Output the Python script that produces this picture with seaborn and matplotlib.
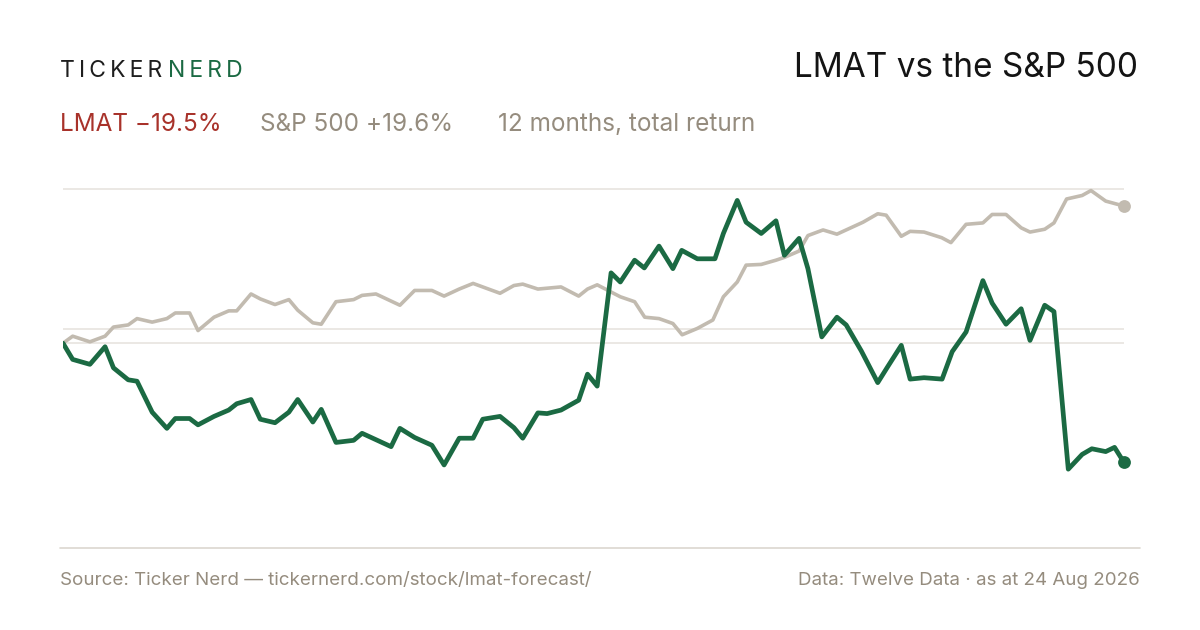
import matplotlib
matplotlib.use("Agg")
import matplotlib.pyplot as plt
import seaborn as sns
import pandas as pd

# trading day index vs cumulative total return (%)
lmat_day = [0, 2.3, 6.4, 10.0, 12.0, 15.5, 17.6, 21.2, 24.7, 26.7, 30.1, 32.1, 35.9, 39.4, 41.3,
            44.7, 46.9, 50.4, 53.7, 55.8, 59.4, 61.4, 64.9, 69.1, 71.1, 78.0, 80.1, 83.6, 87.7,
            90.6, 94.2, 97.5, 99.8, 103.9, 107.2, 109.3, 112.9, 115.1, 118.4, 122.6, 124.7,
            127.0, 130.3, 132.5, 135.9, 138.2, 141.7, 145.0, 147.1, 150.8, 155.0, 157.0, 160.3,
            162.4, 166.0, 169.5, 171.5, 175.0, 177.1, 180.4, 184.0, 186.2, 189.8, 193.7, 196.0,
            199.3, 201.4, 204.7, 209.0, 211.4, 214.7, 218.7, 220.9, 224.2, 227.8, 229.9, 233.4,
            235.6, 239.0, 242.3, 244.6, 247.9, 250.0, 252.2]
lmat_ret = [0.0, -2.3, -3.0, -0.5, -3.5, -5.2, -5.4, -9.8, -12.1, -10.7, -10.7, -11.6, -10.4,
            -9.5, -8.6, -8.0, -10.8, -11.3, -9.8, -8.0, -11.2, -9.4, -14.1, -13.8, -12.8, -14.7,
            -12.1, -13.4, -14.5, -17.3, -13.5, -13.5, -10.8, -10.4, -12.0, -13.5, -9.9, -10.0,
            -9.5, -8.1, -4.4, -6.1, 10.0, 8.7, 11.8, 10.7, 13.8, 10.6, 13.2, 12.0, 12.0, 15.6,
            20.3, 17.2, 15.6, 17.4, 12.5, 14.9, 10.6, 0.9, 3.7, 2.6, -1.1, -5.6, -3.4, -0.3,
            -5.1, -4.9, -5.1, -1.2, 1.6, 8.9, 5.7, 2.7, 4.9, 0.4, 5.4, 4.5, -17.9, -15.8, -15.0,
            -15.4, -14.8, -16.9]

spx_day = [0, 2.3, 6.4, 10.0, 12.0, 15.5, 17.6, 21.2, 24.7, 26.7, 30.1, 32.1, 35.9, 39.4, 41.3,
           44.7, 46.9, 50.4, 53.7, 55.8, 59.4, 61.4, 64.9, 69.1, 71.1, 74.4, 80.1, 83.6, 87.7,
           90.6, 94.2, 97.5, 103.9, 107.2, 109.3, 112.9, 118.4, 122.6, 124.7, 127.0, 132.5,
           135.9, 138.3, 141.7, 145.0, 147.2, 150.8, 154.5, 157.0, 160.3, 162.4, 166.0, 169.5,
           171.5, 175.0, 177.1, 180.7, 184.0, 190.2, 193.7, 195.7, 199.3, 201.4, 204.7, 208.9,
           211.1, 214.7, 218.7, 220.9, 224.2, 227.8, 229.9, 233.4, 235.6, 238.6, 242.3, 244.4,
           247.9, 252.2]
spx_ret = [0.0, 1.0, 0.2, 1.0, 2.3, 2.6, 3.5, 3.0, 3.5, 4.3, 4.3, 1.8, 3.7, 4.6, 4.6, 7.0, 6.3,
           5.5, 6.2, 4.7, 2.9, 2.7, 5.9, 6.2, 6.8, 7.0, 5.4, 7.5, 7.5, 6.7, 7.7, 8.5, 7.1, 8.2,
           8.4, 7.7, 8.0, 6.7, 7.7, 8.3, 6.6, 5.9, 3.7, 3.5, 2.8, 1.2, 2.1, 3.3, 6.6, 8.7, 11.1,
           11.2, 11.8, 12.2, 13.1, 15.3, 16.1, 15.5, 17.2, 18.4, 18.2, 15.2, 15.9, 15.8, 15.0,
           14.3, 16.9, 17.1, 18.3, 18.3, 16.4, 15.8, 16.2, 17.1, 20.5, 21.0, 21.7, 20.2, 19.5]

grid_levels = [21.9, 2.0, 0.0]

GREEN = "#1b6a43"
SAND = "#c2bbb0"
RED = "#a8322a"
MUTED = "#958c7e"

sns.set_style("white")
plt.rcParams["font.family"] = ["Inter", "DejaVu Sans"]

fig = plt.figure(figsize=(12, 6.3), dpi=100)
ax = fig.add_axes([0.0525, 0.1302, 0.884, 0.5841])

for g in grid_levels:
    ax.axhline(g, color="#e6e2dc", lw=1.1, zorder=0)

spx = pd.DataFrame({"day": spx_day, "ret": spx_ret})
lmat = pd.DataFrame({"day": lmat_day, "ret": lmat_ret})
sns.lineplot(data=spx, x="day", y="ret", color=SAND, lw=2.6, ax=ax, zorder=2)
sns.lineplot(data=lmat, x="day", y="ret", color=GREEN, lw=3.4, ax=ax, zorder=3)
ax.scatter([spx_day[-1]], [spx_ret[-1]], s=85, color=SAND, zorder=4, lw=0, clip_on=False)
ax.scatter([lmat_day[-1]], [lmat_ret[-1]], s=85, color=GREEN, zorder=4, lw=0, clip_on=False)

ax.set_xlim(0, 252.2)
ax.set_ylim(-29.1, 23.2)
ax.axis("off")

# bottom rule
fig.add_artist(plt.Line2D([0.05, 0.95], [0.1302, 0.1302], color="#dcd7cf", lw=1.2))

ts = "\u2009"
fig.text(0.05, 0.888, ts.join("TICKER"), fontsize=16.5, color="#1e1e1e", va="center")
fig.text(0.14, 0.888, ts.join("NERD"), fontsize=16.5, color=GREEN, va="center")
fig.text(0.948, 0.892, "LMAT vs the S&P 500", fontsize=24, color="#141414", ha="right", va="center")

fig.text(0.05, 0.802, "LMAT \u221219.5%", fontsize=17.5, color=RED, va="center")
fig.text(0.217, 0.802, "S&P 500 +19.6%", fontsize=17.5, color=MUTED, va="center")
fig.text(0.415, 0.802, "12 months, total return", fontsize=17.5, color=MUTED, va="center")

fig.text(0.05, 0.079, "Source: Ticker Nerd \u2014 tickernerd.com/stock/lmat-forecast/", fontsize=13.5,
         color=MUTED, va="center")
fig.text(0.95, 0.079, "Data: Twelve Data \u00b7 as at 24 Aug 2026", fontsize=13.5, color=MUTED,
         ha="right", va="center")

fig.savefig("out.png", dpi=100, facecolor="white")
